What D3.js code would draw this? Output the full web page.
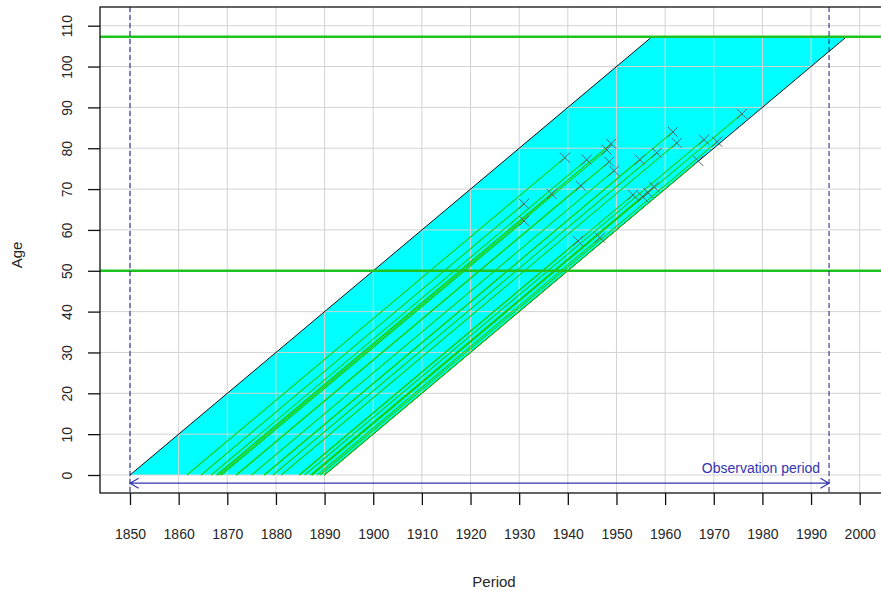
<!DOCTYPE html>
<meta charset="utf-8">
<html>
<script src="https://d3js.org/d3.v7.min.js"></script>
<style>
    body { margin: 0; background: #ffffff; }
    text { font-family: "Liberation Sans", Arial, sans-serif; fill: #262626; }
</style>

<body>
    <div id="chart"></div>
    <script>

        // Tick values
        var periodTicks = [1850, 1860, 1870, 1880, 1890, 1900, 1910, 1920, 1930, 1940, 1950, 1960, 1970, 1980, 1990, 2000];
        var ageTicks = [0, 10, 20, 30, 40, 50, 60, 70, 80, 90, 100, 110];

        // Study base: birth cohorts followed up to the maximum age
        var cohortBirths = [1850, 1890];
        var maxAge = 107;
        var ageLines = [50, 107.3];

        // Observation period
        var obsPeriod = [1850, 1993.7];
        var obsAge = -2;

        // Life lines: year of birth and age at exit
        var birthYear = [1867.8, 1868.4, 1861.7, 1866.7, 1871.8, 1875.0, 1871.9, 1867.9, 1864.6, 1868.8, 1884.8, 1888.5,
            1887.4, 1877.6, 1881.1, 1885.9, 1889.1, 1879.4, 1877.6, 1889.9, 1887.1, 1884.8, 1887.3, 1887.4];
        var exitAge = [81.1, 79.6, 77.7, 77.2, 76.7, 74.5, 70.8, 68.8, 66.4, 62.2, 57.3, 58.1,
            88.4, 84.0, 81.3, 82.1, 81.6, 78.9, 77.2, 76.9, 70.6, 68.6, 68.1, 69.1];

        var W = 881, H = 591;
        var box = { left: 100, top: 7, right: 888, bottom: 493 };

        var svg = d3.select("#chart")
            .append("svg")
            .attr("width", W)
            .attr("height", H);

        var x = d3.scaleLinear().domain([1850, 2000]).range([130, 859.7]);
        var y = d3.scaleLinear().domain([0, 110]).range([475, 25.7]);

        // clip to plot region
        svg.append("clipPath").attr("id", "clip")
            .append("rect")
            .attr("x", box.left).attr("y", box.top)
            .attr("width", box.right - box.left).attr("height", box.bottom - box.top);

        var plot = svg.append("g").attr("clip-path", "url(#clip)");

        // Lexis region
        var region = [
            [cohortBirths[0], 0],
            [cohortBirths[1], 0],
            [cohortBirths[1] + maxAge, maxAge],
            [cohortBirths[0] + maxAge, maxAge]
        ];
        plot.append("path")
            .attr("d", d3.line().x(function (d) { return x(d[0]); }).y(function (d) { return y(d[1]); })(region) + "Z")
            .attr("fill", "#00ffff")
            .attr("stroke", "none");

        // Grid
        plot.selectAll("gridx")
            .data(periodTicks).enter()
            .append("line")
            .attr("x1", function (d) { return x(d); })
            .attr("x2", function (d) { return x(d); })
            .attr("y1", box.top).attr("y2", box.bottom)
            .attr("stroke", "#d3d3d3").attr("stroke-width", 1);
        plot.selectAll("gridy")
            .data(ageTicks).enter()
            .append("line")
            .attr("y1", function (d) { return y(d); })
            .attr("y2", function (d) { return y(d); })
            .attr("x1", box.left).attr("x2", box.right)
            .attr("stroke", "#d3d3d3").attr("stroke-width", 1);

        // Cohort borders (diagonals)
        cohortBirths.forEach(function (b) {
            plot.append("line")
                .attr("x1", x(b)).attr("y1", y(0))
                .attr("x2", x(b + maxAge)).attr("y2", y(maxAge))
                .attr("stroke", "#111").attr("stroke-width", 1);
        });

        // Life lines
        var lives = birthYear.map(function (b, i) { return { birth: b, age: exitAge[i] }; });
        plot.selectAll("life")
            .data(lives).enter()
            .append("line")
            .attr("x1", function (d) { return x(d.birth); })
            .attr("y1", y(0))
            .attr("x2", function (d) { return x(d.birth + d.age); })
            .attr("y2", function (d) { return y(d.age); })
            .attr("stroke", "#18d018").attr("stroke-width", 1.1);

        // Exit crosses
        var s = 5;
        plot.selectAll("cross")
            .data(lives).enter()
            .append("path")
            .attr("d", function (d) {
                var cx = x(d.birth + d.age), cy = y(d.age);
                return "M" + (cx - s) + "," + (cy - s) + "L" + (cx + s) + "," + (cy + s) +
                    "M" + (cx - s) + "," + (cy + s) + "L" + (cx + s) + "," + (cy - s);
            })
            .attr("stroke", "#4a6472").attr("stroke-width", 1).attr("fill", "none");

        // Horizontal age lines
        plot.selectAll("ageline")
            .data(ageLines).enter()
            .append("line")
            .attr("x1", box.left).attr("x2", box.right)
            .attr("y1", function (d) { return y(d); })
            .attr("y2", function (d) { return y(d); })
            .attr("stroke", "#1ec31e").attr("stroke-width", 2.5);

        // Observation period limits
        plot.selectAll("obsline")
            .data(obsPeriod).enter()
            .append("line")
            .attr("x1", function (d) { return x(d); })
            .attr("x2", function (d) { return x(d); })
            .attr("y1", box.top).attr("y2", box.bottom)
            .attr("stroke", "#1c1c78").attr("stroke-width", 1)
            .attr("stroke-dasharray", "5,3");

        // Observation arrow
        var blue = "#3434b4";
        var ay = y(obsAge), ax0 = x(obsPeriod[0]), ax1 = x(obsPeriod[1]);
        var hl = 10, hx = hl * Math.cos(Math.PI / 6), hy = hl * Math.sin(Math.PI / 6);
        plot.append("path")
            .attr("d", "M" + ax0 + "," + ay + "L" + ax1 + "," + ay +
                "M" + (ax0 + hx) + "," + (ay - hy) + "L" + ax0 + "," + ay + "L" + (ax0 + hx) + "," + (ay + hy) +
                "M" + (ax1 - hx) + "," + (ay - hy) + "L" + ax1 + "," + ay + "L" + (ax1 - hx) + "," + (ay + hy))
            .attr("stroke", blue).attr("stroke-width", 1.2).attr("fill", "none");
        svg.append("text")
            .attr("x", x(1979.7))
            .attr("y", y(1.7))
            .attr("dy", "0.35em")
            .attr("text-anchor", "middle")
            .style("font-size", "14px")
            .style("fill", blue)
            .text("Observation period");

        // Box
        svg.append("rect")
            .attr("x", box.left).attr("y", box.top)
            .attr("width", box.right - box.left).attr("height", box.bottom - box.top)
            .attr("fill", "none").attr("stroke", "#111").attr("stroke-width", 1.3);

        // X axis
        var xAxis = svg.append("g")
            .attr("transform", "translate(0," + box.bottom + ")")
            .call(d3.axisBottom(x).tickValues(periodTicks).tickFormat(d3.format("d"))
                .tickSize(12).tickSizeOuter(0).tickPadding(24));
        xAxis.select(".domain").remove();
        xAxis.selectAll("line").attr("stroke", "#111").attr("stroke-width", 1.3);
        xAxis.selectAll("text").style("font-size", "14px").style("font-family", null).attr("fill", "#262626");

        // Y axis
        var yAxis = svg.append("g")
            .attr("transform", "translate(" + box.left + ",0)")
            .call(d3.axisLeft(y).tickValues(ageTicks).tickSize(12).tickSizeOuter(0));
        yAxis.select(".domain").remove();
        yAxis.selectAll("line").attr("stroke", "#111").attr("stroke-width", 1.3);
        yAxis.selectAll("text")
            .attr("x", 0).attr("dy", null)
            .attr("text-anchor", "middle")
            .attr("transform", "translate(-28,0) rotate(-90)")
            .style("font-size", "14px").style("font-family", null).attr("fill", "#262626");

        // Axis titles
        svg.append("text")
            .attr("transform", "translate(22,255) rotate(-90)")
            .attr("text-anchor", "middle")
            .style("font-size", "15px")
            .text("Age");
        svg.append("text")
            .attr("x", 494).attr("y", 587)
            .attr("text-anchor", "middle")
            .style("font-size", "15px")
            .text("Period");

    </script>
</body>

</html>
